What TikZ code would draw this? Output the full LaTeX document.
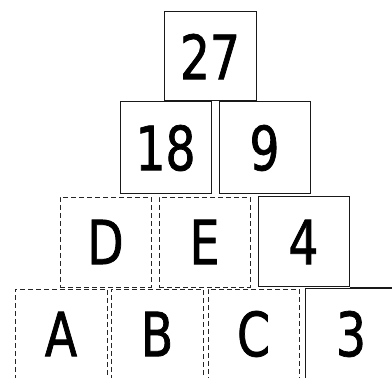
\documentclass[tikz,border=0pt]{standalone}
\usepackage{fontspec}
\setmainfont[FakeStretch=0.86,FakeBold=1.2]{DejaVu Sans Condensed}
\begin{document}
\begin{tikzpicture}[x=1pt,y=1pt,
  box/.style={draw=black!90, line width=1pt, minimum width=91pt, minimum height=90pt,
    inner sep=0pt, font=\fontsize{61}{70}\selectfont},
  dbox/.style={box, draw=black!85, line width=0.95pt, dash pattern=on 5pt off 3pt}]
\useasboundingbox (0,0) rectangle (392,378);
\clip (0,0) rectangle (392,378);
% row 1
\node[box, minimum width=92pt, minimum height=89pt] (n27) at (210,321.5) {27};
% row 2
\node[box, minimum height=92pt] (n18) at (165.5,230) {18};
\node[box, minimum height=92pt] (n9) at (264.5,230) {9};
% row 3
\node[dbox] (nD) at (105.5,136) {D};
\node[dbox] (nE) at (204.5,136) {E};
\node[box] (n4) at (303.5,136) {4};
% row 4
\node[dbox, minimum width=92pt] (nA) at (61,44) {A};
\node[dbox, minimum width=92pt] (nB) at (157,44) {B};
\node[dbox] (nC) at (253.5,44) {C};
\node[box, minimum width=92pt] (n3) at (351,44) {3};
\coordinate (redge) at (392,0);
\draw[draw=black!90, line width=1pt] (n4.south east) -- (n4.south east -| redge);
\end{tikzpicture}
\end{document}
